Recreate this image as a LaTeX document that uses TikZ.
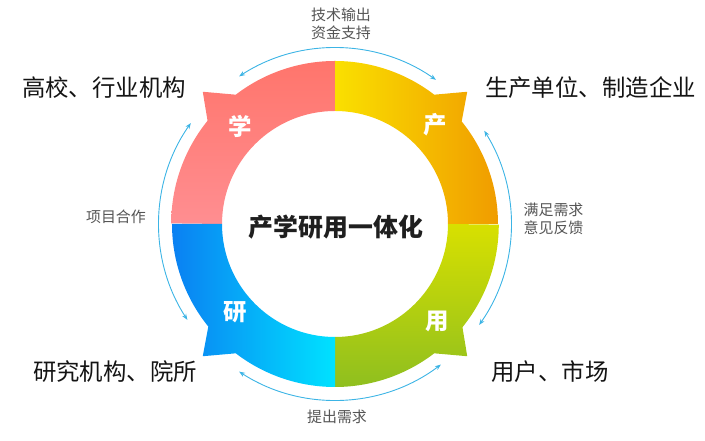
\documentclass[tikz,border=0pt]{standalone}
\usepackage{fontspec}
\usepackage{xcolor}
\usepackage{tikz}
\usetikzlibrary{arrows.meta}
\newfontfamily\cjk{Noto Sans CJK SC}
\definecolor{xueTop}{HTML}{FF756C}
\definecolor{xueBot}{HTML}{FF8E91}
\definecolor{chanL}{HTML}{FAE000}
\definecolor{chanR}{HTML}{F09C00}
\definecolor{yongTop}{HTML}{D8E000}
\definecolor{yongBot}{HTML}{8FBF1F}
\definecolor{yanL}{HTML}{0A80F2}
\definecolor{yanR}{HTML}{00E2FF}
\definecolor{flowBlue}{HTML}{3CB4E5}
\definecolor{noteGray}{HTML}{555555}

\begin{document}
\begin{tikzpicture}[
    x=1bp, y=1bp,
    every node/.style={inner sep=0pt},
    ringlabel/.style={font=\cjk\bfseries\fontsize{23.5}{23.5}\selectfont, text=white},
    title/.style={font=\cjk\bfseries\fontsize{25}{25}\selectfont, text=black!88},
    party/.style={font=\cjk\fontsize{23.5}{23.5}\selectfont, text=black!92},
    note/.style={font=\cjk\fontsize{15}{18}\selectfont, text=noteGray, align=center},
    flow/.style={draw=flowBlue, line width=0.9bp, {Stealth[length=6bp,width=4.5bp]}-{Stealth[length=6bp,width=4.5bp]}}
]
    \useasboundingbox (-335,-217) rectangle (370,224);

    \shade[top color=xueTop, bottom color=xueBot]
        (90:163bp) arc[start angle=90, end angle=127.5, radius=163bp] -- (135:187bp) -- (141:164bp)
        arc[start angle=141, end angle=180, radius=163bp] -- (180:113bp)
        arc[start angle=180, end angle=90, radius=113bp] -- cycle;
    \shade[left color=chanL, right color=chanR]
        (0:163bp) arc[start angle=0, end angle=39, radius=163bp] -- (45:187bp) -- (52.5:163bp)
        arc[start angle=52.5, end angle=90, radius=163bp] -- (90:113bp)
        arc[start angle=90, end angle=0, radius=113bp] -- cycle;
    \shade[top color=yongTop, bottom color=yongBot]
        (270:163bp) arc[start angle=270, end angle=307.5, radius=163bp] -- (315:187bp) -- (321:164bp)
        arc[start angle=321, end angle=360, radius=163bp] -- (0:113bp)
        arc[start angle=360, end angle=270, radius=113bp] -- cycle;
    \shade[left color=yanL, right color=yanR]
        (180:163bp) arc[start angle=180, end angle=219, radius=163bp] -- (225:187bp) -- (232.5:163bp)
        arc[start angle=232.5, end angle=270, radius=163bp] -- (270:113bp)
        arc[start angle=270, end angle=180, radius=113bp] -- cycle;

    \node[ringlabel] (xue) at (-95,98) {学};
    \node[ringlabel] (chan) at (100,99) {产};
    \node[ringlabel] (yan) at (-100,-88) {研};
    \node[ringlabel] (yong) at (102,-97) {用};
    \node[title] (core) at (1,-3) {产学研用一体化};

    \node[party] (school) at (-231,136) {高校、行业机构};
    \node[party] (firm) at (255.5,136) {生产单位、制造企业};
    \node[party] (lab) at (-220,-148) {研究机构、院所};
    \node[party] (market) at (215,-148) {用户、市场};

    \foreach \s/\e in {55/123, -35/32, 145/213, 237/307}
        \draw[flow] (\s:176bp) arc[start angle=\s, end angle=\e, radius=176bp];

    \node[note] (fund) at (6,200) {技术输出\\资金支持};
    \node[note] (need) at (218.5,5) {满足需求\\意见反馈};
    \node[note] (coop) at (-219,7) {项目合作};
    \node[note] (ask) at (2,-193) {提出需求};
\end{tikzpicture}
\end{document}
